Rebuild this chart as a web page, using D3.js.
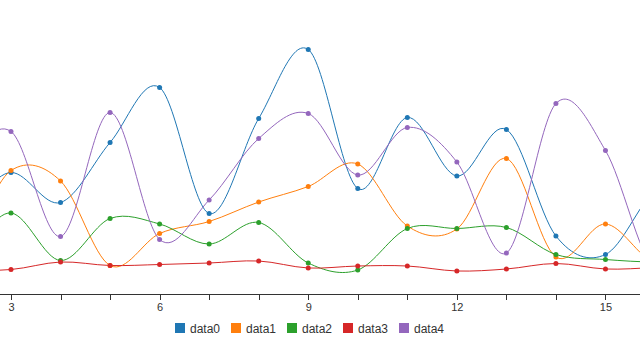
<!DOCTYPE html>
<html>
<head>
<meta charset="utf-8">
<script src="https://cdn.jsdelivr.net/npm/d3@7"></script>
<style>
  body { margin: 0; background: #fff; }
  svg { display: block; font-family: "Liberation Sans", Arial, sans-serif; }
  .axis path, .axis line { stroke: #333; shape-rendering: crispEdges; }
  .axis text { fill: #333; font-size: 11px; }
  .legend text { fill: #333; font-size: 12px; }
</style>
</head>
<body>
<script>
// x values (the chart is zoomed in, so only part of them is visible)
var xValues = [1, 2, 3, 4, 5, 6, 7, 8, 9, 10, 11, 12, 13, 14, 15, 16, 17];
var seriesNames = ["data0", "data1", "data2", "data3", "data4"];
var colors = ["#1f77b4", "#ff7f0e", "#2ca02c", "#d62728", "#9467bd"];

var data0 = [250, 170, 235, 175, 295, 405, 153, 343, 481, 203, 345, 228, 321, 108, 71, 200, 250];
var data1 = [150, 90, 239, 218, 49, 113, 137, 176, 207, 252, 128, 122, 263, 66, 132, 55, 80];
var data2 = [160, 80, 154, 59, 143, 132, 92, 135, 54, 40, 123, 123, 125, 71, 61, 56, 60];
var data3 = [50, 40, 41, 56, 49, 51, 54, 58, 44, 48, 48, 38, 42, 53, 42, 45, 50];
var data4 = [150, 250, 317, 107, 355, 101, 180, 303, 353, 230, 325, 256, 74, 373, 279, 40, 100];

// visible window of the zoomed x axis
var xVisible = [2.778, 15.697];

var width = 640, height = 360;

var series = [data0, data1, data2, data3, data4].map(function (vals, i) {
  return {
    name: seriesNames[i],
    color: colors[i],
    values: vals.map(function (v, j) { return { x: xValues[j], y: v }; })
  };
});

var svg = d3.select("body").append("svg")
  .attr("width", width)
  .attr("height", height);

var xScale = d3.scaleLinear()
  .domain(xVisible)
  .range([0, width]);

var yScale = d3.scaleLinear()
  .domain([0, 500])
  .range([290, 40]);

svg.append("defs").append("clipPath")
  .attr("id", "clip")
  .append("rect")
  .attr("x", 0)
  .attr("y", 0)
  .attr("width", width)
  .attr("height", 294);

var line = d3.line()
  .curve(d3.curveCardinal)
  .x(function (d) { return xScale(d.x); })
  .y(function (d) { return yScale(d.y); });

var plot = svg.append("g").attr("clip-path", "url(#clip)");

plot.selectAll(".line")
  .data(series)
  .enter().append("path")
  .attr("class", "line")
  .attr("fill", "none")
  .attr("stroke", function (d) { return d.color; })
  .attr("stroke-width", 1)
  .attr("d", function (d) { return line(d.values); });

series.forEach(function (s) {
  plot.selectAll(".dot-" + s.name)
    .data(s.values)
    .enter().append("circle")
    .attr("class", "dot-" + s.name)
    .attr("r", 2.5)
    .attr("cx", function (d) { return xScale(d.x); })
    .attr("cy", function (d) { return yScale(d.y); })
    .attr("fill", s.color);
});

// x axis: tick on every integer, label every third
var xAxis = d3.axisBottom(xScale)
  .tickValues(d3.range(3, 16))
  .tickSizeOuter(0)
  .tickSize(6)
  .tickPadding(3)
  .tickFormat(function (d) { return d % 3 === 0 ? d : ""; });

svg.append("g")
  .attr("class", "x axis")
  .attr("transform", "translate(0,294)")
  .call(xAxis)
  .call(function (g) { g.select(".domain").attr("d", "M0,0.5H" + width); });

// legend
var legend = svg.append("g")
  .attr("class", "legend")
  .attr("transform", "translate(175,323)");

var item = legend.selectAll(".item")
  .data(series)
  .enter().append("g")
  .attr("class", "item")
  .attr("transform", function (d, i) { return "translate(" + (i * 56) + ",0)"; });

item.append("rect")
  .attr("width", 10)
  .attr("height", 10)
  .attr("fill", function (d) { return d.color; });

item.append("text")
  .attr("x", 15)
  .attr("y", 9.5)
  .text(function (d) { return d.name; });
</script>
</body>
</html>
